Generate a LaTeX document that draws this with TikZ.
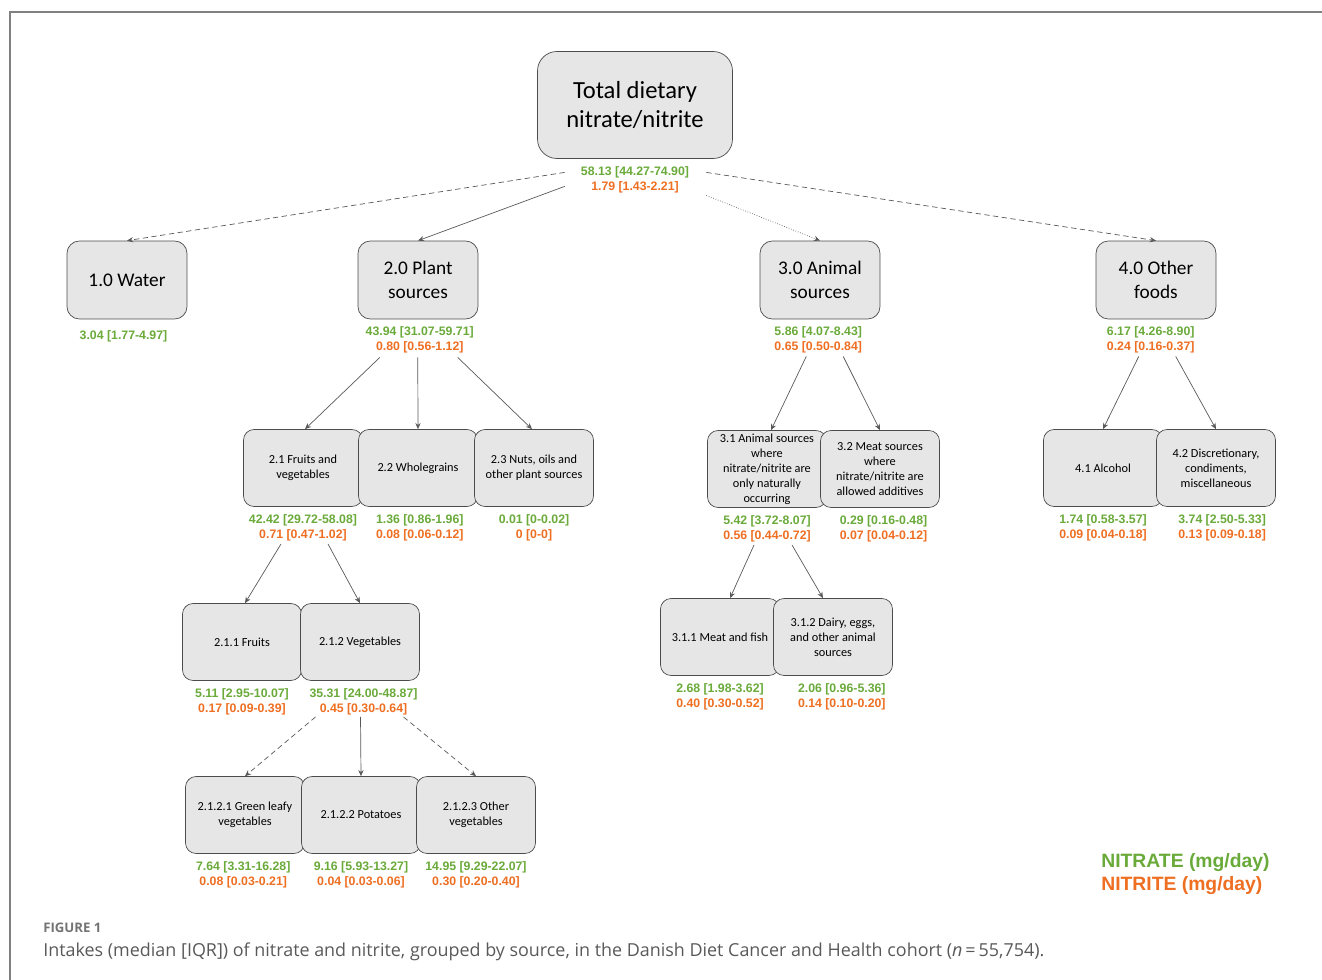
\documentclass[tikz,border=0pt]{standalone}
\usepackage{fontspec}
\setmainfont{Carlito}
\newfontfamily\valfont{Liberation Sans}
\newfontfamily\capfont{Open Sans}
\usetikzlibrary{positioning,arrows.meta,calc}
\definecolor{nitrate}{RGB}{106,170,58}
\definecolor{nitrite}{RGB}{238,110,34}
\definecolor{boxgray}{RGB}{230,230,230}
\newcommand{\vals}[2]{{\color{nitrate}#1}\\{\color{nitrite}#2}}
\begin{document}
\begin{tikzpicture}
[x=0.02cm, y=-0.02cm, font=\small]

\tikzstyle{box}=[draw=black!70, fill=boxgray, rounded corners=7pt, align=center, inner sep=1pt, minimum width=2.4cm, minimum height=1.56cm, font=\fontsize{11}{13.5}\selectfont]
\tikzstyle{subbox}=[box, minimum width=2.38cm, minimum height=1.54cm, rounded corners=6pt, font=\fontsize{7}{8.5}\selectfont]
\tikzstyle{vals}=[align=center, inner sep=0pt, font=\valfont\bfseries\fontsize{7}{8.5}\selectfont]
\tikzstyle{link}=[draw=black!65, line width=0.4pt, -{Stealth[length=3.5pt,width=3pt]}]

\useasboundingbox (0,0) rectangle (1322,980);
\draw [black!50, line width=1pt] (10,980) -- (10,12) -- (1322,12);

% top
\node[box, minimum width=3.9cm, minimum height=2.14cm, rounded corners=11pt, font=\fontsize{14}{17}\selectfont] (tot) at (635,105) {Total dietary\\nitrate/nitrite};
\node[vals] (vtot) [below=4pt of tot] {\vals{58.13 [44.27-74.90]}{1.79 [1.43-2.21]}};

% first level
\node[box]	(wat)	at (127,280)	{1.0 Water};
\node[box]	(pla)	at (418,280)	{2.0 Plant\\sources};
\node[box]	(ani)	at (820,280)	{3.0 Animal\\sources};
\node[box]	(oth)	at (1156,280)	{4.0 Other\\foods};

\node[vals, text=nitrate]	(vwat)	[below=6pt of wat, xshift=-2pt]	{3.04 [1.77-4.97]};
\node[vals]	(vpla)	[below=4pt of pla, xshift=1pt]	{\vals{43.94 [31.07-59.71]}{0.80 [0.56-1.12]}};
\node[vals]	(vani)	[below=4pt of ani, xshift=-1pt]	{\vals{5.86 [4.07-8.43]}{0.65 [0.50-0.84]}};
\node[vals]	(voth)	[below=4pt of oth, xshift=-3pt]	{\vals{6.17 [4.26-8.90]}{0.24 [0.16-0.37]}};

% plant sources
\node[subbox]	(fv)	at (303,468)	{2.1 Fruits and\\vegetables};
\node[subbox]	(wg)	at (418,468)	{2.2 Wholegrains};
\node[subbox]	(nut)	at (534,468)	{2.3 Nuts, oils and\\other plant sources};

\node[vals]	(vfv)	[below=4pt of fv]	{\vals{42.42 [29.72-58.08]}{0.71 [0.47-1.02]}};
\node[vals]	(vwg)	[below=4pt of wg, xshift=1pt]	{\vals{1.36 [0.86-1.96]}{0.08 [0.06-0.12]}};
\node[vals]	(vnut)	[below=4pt of nut]	{\vals{0.01 [0-0.02]}{0 [0-0]}};

\node[subbox]	(fru)	at (242,642)	{2.1.1 Fruits};
\node[subbox]	(veg)	at (360,642)	{2.1.2 Vegetables};

\node[vals]	(vfru)	[below=4pt of fru]	{\vals{5.11 [2.95-10.07]}{0.17 [0.09-0.39]}};
\node[vals]	(vveg)	[below=4pt of veg, xshift=2pt]	{\vals{35.31 [24.00-48.87]}{0.45 [0.30-0.64]}};

\node[subbox]	(gl)	at (245,815)	{2.1.2.1 Green leafy\\vegetables};
\node[subbox]	(pot)	at (361,815)	{2.1.2.2 Potatoes};
\node[subbox]	(ov)	at (476,815)	{2.1.2.3 Other\\vegetables};

\node[vals]	(vgl)	[below=4pt of gl, xshift=-1pt]	{\vals{7.64 [3.31-16.28]}{0.08 [0.03-0.21]}};
\node[vals]	(vpot)	[below=4pt of pot]	{\vals{9.16 [5.93-13.27]}{0.04 [0.03-0.06]}};
\node[vals]	(vov)	[below=4pt of ov]	{\vals{14.95 [9.29-22.07]}{0.30 [0.20-0.40]}};

% animal sources
\node[subbox]	(ans)	at (767,469)	{3.1 Animal sources\\where\\nitrate/nitrite are\\only naturally\\occurring};
\node[subbox]	(mea)	at (880,469)	{3.2 Meat sources\\where\\nitrate/nitrite are\\allowed additives};

\node[vals]	(vans)	[below=4pt of ans]	{\vals{5.42 [3.72-8.07]}{0.56 [0.44-0.72]}};
\node[vals]	(vmea)	[below=4pt of mea, xshift=2pt]	{\vals{0.29 [0.16-0.48]}{0.07 [0.04-0.12]}};

\node[subbox]	(mf)	at (720,637)	{3.1.1 Meat and fish};
\node[subbox]	(dai)	at (833,637)	{3.1.2 Dairy, eggs,\\and other animal\\sources};

\node[vals]	(vmf)	[below=4pt of mf]	{\vals{2.68 [1.98-3.62]}{0.40 [0.30-0.52]}};
\node[vals]	(vdai)	[below=4pt of dai, xshift=5pt]	{\vals{2.06 [0.96-5.36]}{0.14 [0.10-0.20]}};

% other foods
\node[subbox]	(alc)	at (1103,468)	{4.1 Alcohol};
\node[subbox]	(dis)	at (1216,468)	{4.2 Discretionary,\\condiments,\\miscellaneous};

\node[vals]	(valc)	[below=4pt of alc]	{\vals{1.74 [0.58-3.57]}{0.09 [0.04-0.18]}};
\node[vals]	(vdis)	[below=4pt of dis, xshift=3.5pt]	{\vals{3.74 [2.50-5.33]}{0.13 [0.09-0.18]}};

% connectors
\draw [link, densely dashed] ($(vtot.west)+(-16,-7)$) -- (wat.north);
\draw [link] ($(vtot.west)+(-16,7)$) -- (pla.north);
\draw [link, densely dotted] ($(vtot.east)+(17,16)$) -- (ani.north);
\draw [link, densely dashed] ($(vtot.east)+(17,-7)$) -- (oth.north);

\draw [link] ($(vpla.south)+(-40,4)$) -- ($(fv.north)+(2,0)$);
\draw [link] ($(vpla.south)+(-2,4)$) -- (wg.north);
\draw [link] ($(vpla.south)+(38,4)$) -- ($(nut.north)+(-2,0)$);

\draw [link] ($(vfv.south)+(-22,3)$) -- ($(fru.north)+(3,0)$);
\draw [link] ($(vfv.south)+(25,3)$) -- (veg.north);

\draw [link, densely dashed] ($(vveg.south)+(-48,2)$) -- (gl.north);
\draw [link] ($(vveg.south)+(-3,2)$) -- (pot.north);
\draw [link, densely dashed] ($(vveg.south)+(40,2)$) -- (ov.north);

\draw [link] ($(vani.south)+(-12,3)$) -- ($(ans.north)+(4,0)$);
\draw [link] ($(vani.south)+(25,3)$) -- (mea.north);

\draw [link] ($(vans.south)+(-13,3)$) -- ($(mf.north)+(10,0)$);
\draw [link] ($(vans.south)+(25,3)$) -- ($(dai.north)+(-10,0)$);

\draw [link] ($(voth.south)+(-12,3)$) -- (alc.north);
\draw [link] ($(voth.south)+(25,3)$) -- (dis.north);

% legend and caption
\node[anchor=west, inner sep=0pt, text=nitrate, font=\valfont\bfseries\fontsize{11}{13}\selectfont] (lnat) at (1101,863) {NITRATE (mg/day)};
\node[anchor=west, inner sep=0pt, text=nitrite, font=\valfont\bfseries\fontsize{11}{13}\selectfont] (lnit) at (1101,886) {NITRITE (mg/day)};

\node[anchor=west, inner sep=0pt, text=black!55, font=\capfont\bfseries\fontsize{7.5}{9}\selectfont] (fig) at (43,928) {FIGURE 1};
\node[anchor=west, inner sep=0pt, text=black!65, font=\capfont\fontsize{10.2}{12}\selectfont] (cap) at (43,952) {Intakes (median [IQR]) of nitrate and nitrite, grouped by source, in the Danish Diet Cancer and Health cohort (\textit{n}\,=\,55,754).};
\end{tikzpicture}
\end{document}
